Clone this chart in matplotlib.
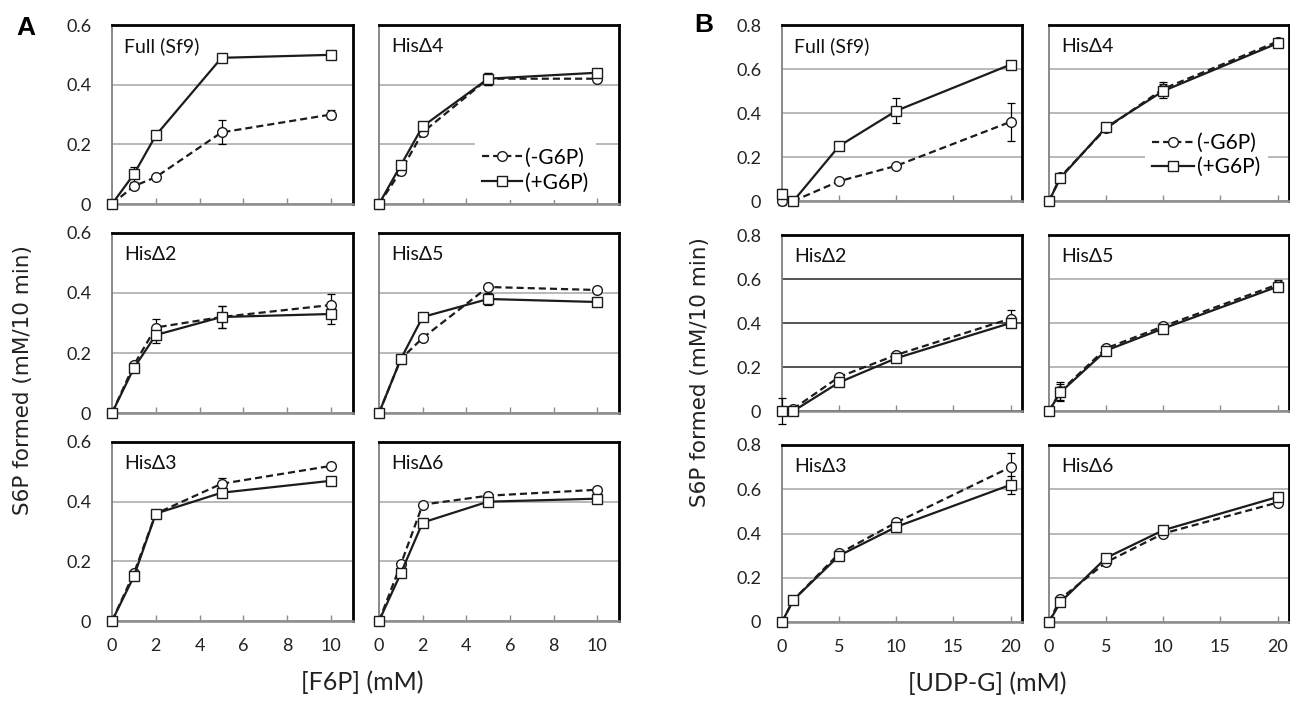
import matplotlib
matplotlib.use('Agg')
import matplotlib.pyplot as plt
import numpy as np

plt.rcParams['font.family'] = ['Lato', 'DejaVu Sans']

# substrate concentrations (mM)
f6p = [0, 1, 2, 5, 10]
udpg = [0, 1, 5, 10, 20]

# panel A: S6P formed vs [F6P], without (-) and with (+) G6P
a_full_minus = [0, 0.06, 0.09, 0.24, 0.30]
a_full_plus = [0, 0.10, 0.23, 0.49, 0.50]
a_his4_minus = [0, 0.11, 0.24, 0.42, 0.42]
a_his4_plus = [0, 0.13, 0.26, 0.42, 0.44]
a_his2_minus = [0, 0.16, 0.285, 0.32, 0.36]
a_his2_plus = [0, 0.15, 0.26, 0.32, 0.33]
a_his5_minus = [0, 0.18, 0.25, 0.42, 0.41]
a_his5_plus = [0, 0.18, 0.32, 0.38, 0.37]
a_his3_minus = [0, 0.16, 0.36, 0.46, 0.52]
a_his3_plus = [0, 0.15, 0.36, 0.43, 0.47]
a_his6_minus = [0, 0.19, 0.39, 0.42, 0.44]
a_his6_plus = [0, 0.16, 0.33, 0.40, 0.41]

a_full_minus_err = [0, 0.005, 0.005, 0.04, 0.015]
a_full_plus_err = [0, 0.025, 0.005, 0.005, 0.005]
a_his4_minus_err = [0, 0.01, 0.01, 0.02, 0.01]
a_his4_plus_err = [0, 0.01, 0.01, 0.02, 0.01]
a_his2_minus_err = [0, 0.01, 0.027, 0.037, 0.035]
a_his2_plus_err = [0, 0.01, 0.027, 0.037, 0.035]
a_his5_minus_err = [0, 0.005, 0.005, 0.01, 0.01]
a_his5_plus_err = [0, 0.005, 0.005, 0.02, 0.01]
a_his3_minus_err = [0, 0.01, 0.01, 0.02, 0.01]
a_his3_plus_err = [0, 0.01, 0.01, 0.015, 0.01]
a_his6_minus_err = [0, 0.005, 0.005, 0.01, 0.01]
a_his6_plus_err = [0, 0.005, 0.005, 0.01, 0.01]

# panel B: S6P formed vs [UDP-G]
b_full_minus = [0, 0, 0.09, 0.16, 0.36]
b_full_plus = [0.03, 0, 0.25, 0.41, 0.62]
b_his4_minus = [0, 0.11, 0.33, 0.51, 0.725]
b_his4_plus = [0, 0.105, 0.335, 0.50, 0.717]
b_his2_minus = [0, 0.01, 0.155, 0.255, 0.42]
b_his2_plus = [0, 0, 0.13, 0.24, 0.40]
b_his5_minus = [0, 0.09, 0.285, 0.385, 0.575]
b_his5_plus = [0, 0.085, 0.275, 0.375, 0.565]
b_his3_minus = [0, 0.10, 0.31, 0.45, 0.70]
b_his3_plus = [0, 0.10, 0.30, 0.43, 0.62]
b_his6_minus = [0, 0.105, 0.27, 0.40, 0.54]
b_his6_plus = [0, 0.09, 0.29, 0.415, 0.565]

b_full_minus_err = [0.02, 0, 0.01, 0.01, 0.085]
b_full_plus_err = [0.025, 0, 0.01, 0.057, 0.01]
b_his4_minus_err = [0, 0.01, 0.01, 0.03, 0.01]
b_his4_plus_err = [0, 0.01, 0.01, 0.03, 0.01]
b_his2_minus_err = [0.06, 0.01, 0.015, 0.01, 0.04]
b_his2_plus_err = [0, 0, 0.01, 0.01, 0.01]
b_his5_minus_err = [0, 0.04, 0.01, 0.015, 0.02]
b_his5_plus_err = [0, 0.04, 0.01, 0.01, 0.02]
b_his3_minus_err = [0, 0.01, 0.01, 0.01, 0.065]
b_his3_plus_err = [0, 0.01, 0.01, 0.01, 0.04]
b_his6_minus_err = [0, 0.005, 0.01, 0.01, 0.01]
b_his6_plus_err = [0, 0.005, 0.01, 0.01, 0.01]

titles = [['Full (Sf9)', 'His\u03944'], ['His\u03942', 'His\u03945'], ['His\u03943', 'His\u03946']]

panels_a = [[(a_full_minus, a_full_minus_err, a_full_plus, a_full_plus_err),
             (a_his4_minus, a_his4_minus_err, a_his4_plus, a_his4_plus_err)],
            [(a_his2_minus, a_his2_minus_err, a_his2_plus, a_his2_plus_err),
             (a_his5_minus, a_his5_minus_err, a_his5_plus, a_his5_plus_err)],
            [(a_his3_minus, a_his3_minus_err, a_his3_plus, a_his3_plus_err),
             (a_his6_minus, a_his6_minus_err, a_his6_plus, a_his6_plus_err)]]
panels_b = [[(b_full_minus, b_full_minus_err, b_full_plus, b_full_plus_err),
             (b_his4_minus, b_his4_minus_err, b_his4_plus, b_his4_plus_err)],
            [(b_his2_minus, b_his2_minus_err, b_his2_plus, b_his2_plus_err),
             (b_his5_minus, b_his5_minus_err, b_his5_plus, b_his5_plus_err)],
            [(b_his3_minus, b_his3_minus_err, b_his3_plus, b_his3_plus_err),
             (b_his6_minus, b_his6_minus_err, b_his6_plus, b_his6_plus_err)]]

W, H = 1290, 701
fig = plt.figure(figsize=(W / 100, H / 100), dpi=100)
fig.patch.set_facecolor('white')


def box(cols, rows):
    (left, right), (top, bottom) = cols, rows
    return [left / W, 1 - bottom / H, (right - left) / W, (bottom - top) / H]


a_cols = [(112, 353), (379, 619)]
a_rows = [(25, 204), (233, 413), (442, 621)]
b_cols = [(782, 1022), (1049, 1289)]
b_rows = [(25, 201), (235, 411), (445, 622)]

ink = '#1c1c1c'


def fmt(v):
    return '0' if v == 0 else '%.1f' % v


def draw(ax, x, series, title, xmax, xticks, ymax, yticks, first_col, last_row, grid_col):
    minus, minus_err, plus, plus_err = series
    ax.set_xlim(0, xmax)
    ax.set_ylim(0, ymax)
    ax.set_xticks(xticks)
    ax.set_yticks(yticks)
    ax.grid(axis='y', color=grid_col, lw=1.1)
    ax.set_axisbelow(True)
    for side in ['top', 'right']:
        ax.spines[side].set_color('black')
        ax.spines[side].set_linewidth(2)
    ax.spines['left'].set_color('#808080')
    ax.spines['left'].set_linewidth(1.3)
    ax.spines['bottom'].set_color('#8c8c8c')
    ax.spines['bottom'].set_linewidth(1.8)
    ax.tick_params(axis='x', direction='in', length=4, width=1, color='#8c8c8c',
                   labelsize=13, pad=12, labelbottom=last_row, labelcolor='#222222')
    ax.tick_params(axis='y', length=0, labelsize=13, pad=15, labelleft=first_col,
                   labelcolor='#222222')
    ax.set_yticklabels([fmt(v) for v in yticks])

    ax.errorbar(x, minus, yerr=minus_err, fmt='none', ecolor='black', elinewidth=0.9,
                capsize=3, capthick=0.9, zorder=3, clip_on=False)
    ax.errorbar(x, plus, yerr=plus_err, fmt='none', ecolor='black', elinewidth=0.9,
                capsize=3, capthick=0.9, zorder=3, clip_on=False)
    ax.plot(x, minus, ls=(0, (3.2, 1.8)), color=ink, lw=1.6, marker='o', ms=7,
            mfc='white', mec=ink, mew=1.0, zorder=4, clip_on=False, label='(-G6P)')
    ax.plot(x, plus, ls='-', color=ink, lw=1.6, marker='s', ms=7.5,
            mfc='white', mec=ink, mew=1.0, zorder=5, clip_on=False, label='(+G6P)')
    ax.text(0.05, 0.88, title, transform=ax.transAxes, fontsize=14, ha='left',
            va='center', color='#111111')


for r in range(3):
    for c in range(2):
        ax = fig.add_axes(box(a_cols[c], a_rows[r]))
        draw(ax, f6p, panels_a[r][c], titles[r][c], 11, [0, 2, 4, 6, 8, 10],
             0.6, [0, 0.2, 0.4, 0.6], c == 0, r == 2, '#a6a6a6')
        if r == 0 and c == 1:
            ax.legend(loc='center left', bbox_to_anchor=(0.40, 0.19), fontsize=15,
                      frameon=True, facecolor='white', edgecolor='none', framealpha=1,
                      handlelength=1.9, handletextpad=0.15, labelspacing=0.25,
                      borderpad=0.35, borderaxespad=0, fancybox=False)

for r in range(3):
    for c in range(2):
        ax = fig.add_axes(box(b_cols[c], b_rows[r]))
        gcol = '#262626' if (r == 1 and c == 0) else '#a6a6a6'
        draw(ax, udpg, panels_b[r][c], titles[r][c], 21, [0, 5, 10, 15, 20],
             0.8, [0, 0.2, 0.4, 0.6, 0.8], c == 0, r == 2, gcol)
        if r == 0 and c == 1:
            ax.legend(loc='center left', bbox_to_anchor=(0.40, 0.26), fontsize=15,
                      frameon=True, facecolor='white', edgecolor='none', framealpha=1,
                      handlelength=2.0, handletextpad=0.15, labelspacing=0.2,
                      borderpad=0.35, borderaxespad=0, fancybox=False)

fig.text(26 / W, 1 - 28 / H, 'A', ha='center', va='center', fontsize=19,
         fontweight='bold', family=['Liberation Sans'])
fig.text(704 / W, 1 - 25 / H, 'B', ha='center', va='center', fontsize=19,
         fontweight='bold', family=['Liberation Sans'])

fig.text(23 / W, 1 - 380 / H, 'S6P formed (mM/10 min)', rotation=90, ha='center',
         va='center', fontsize=15.5, family=['DejaVu Sans'], color='#222222')
fig.text(700 / W, 1 - 372 / H, 'S6P formed (mM/10 min)', rotation=90, ha='center',
         va='center', fontsize=15.5, family=['DejaVu Sans'], color='#222222')

fig.text(362 / W, 1 - 682 / H, '[F6P] (mM)', ha='center', va='center', fontsize=18,
         color='#222222')
fig.text(987 / W, 1 - 683 / H, '[UDP-G] (mM)', ha='center', va='center', fontsize=18,
         color='#222222')

fig.savefig('out.png', dpi=100, facecolor='white')
